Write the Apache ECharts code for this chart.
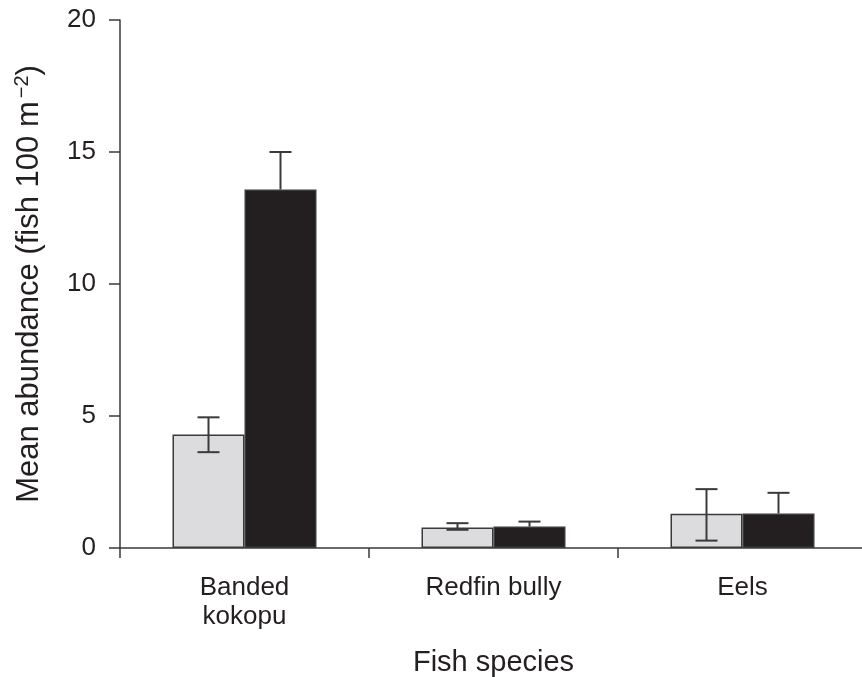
<!DOCTYPE html>
<html>
<head>
<meta charset="utf-8">
<script src="https://cdn.jsdelivr.net/npm/echarts@6/dist/echarts.min.js"></script>
<style>html,body{margin:0;padding:0;background:#fff;}#c{width:862px;height:677px;}</style>
</head>
<body>
<div id="c"></div>
<script>
var categories = ['Banded\nkokopu', 'Redfin bully', 'Eels'];
var yTicks = [0, 5, 10, 15, 20];
var greyMean = [4.30, 0.78, 1.30];
var greyHigh = [4.95, 0.94, 2.23];
var greyLow = [3.63, 0.69, 0.28];
var blackMean = [13.58, 0.81, 1.31];
var blackHigh = [15.00, 1.00, 2.09];
var blackLow = [13.58, 0.81, 1.31];

var BAR_W = 72;
var INK = '#231f20';
var LINE = '#3a3a3a';
var FONT = 'Liberation Sans';

function errData(high, low) {
  return categories.map(function (c, i) { return [i, low[i], high[i]]; });
}
function errRender(offsetSign) {
  return function (params, api) {
    var i = api.value(0);
    var lo = api.coord([i, api.value(1)]);
    var hi = api.coord([i, api.value(2)]);
    var x = lo[0] + offsetSign * BAR_W / 2;
    var cap = 11;
    var st = { stroke: LINE, lineWidth: 2 };
    var children = [
      { type: 'line', shape: { x1: x, y1: lo[1], x2: x, y2: hi[1] }, style: st },
      { type: 'line', shape: { x1: x - cap, y1: hi[1], x2: x + cap, y2: hi[1] }, style: st }
    ];
    if (Math.abs(lo[1] - hi[1]) > 0 && offsetSign < 0) {
      children.push({ type: 'line', shape: { x1: x - cap, y1: lo[1], x2: x + cap, y2: lo[1] }, style: st });
    }
    return { type: 'group', children: children };
  };
}

var chart = echarts.init(document.getElementById('c'));
chart.setOption({
  animation: false,
  backgroundColor: '#fff',
  grid: { left: 120, top: 20, width: 747, height: 528, containLabel: false, outerBoundsMode: 'none' },
  xAxis: {
    type: 'category',
    data: categories,
    axisLine: { lineStyle: { color: LINE, width: 1.5 } },
    axisTick: { show: true, length: 10, alignWithLabel: false, lineStyle: { color: LINE, width: 1.5 } },
    axisLabel: { color: INK, fontFamily: FONT, fontSize: 26, margin: 25, lineHeight: 29 },
    name: 'Fish species',
    nameLocation: 'middle',
    nameGap: 100,
    nameTextStyle: { color: INK, fontFamily: FONT, fontSize: 29 }
  },
  yAxis: {
    type: 'value',
    min: yTicks[0],
    max: yTicks[yTicks.length - 1],
    interval: 5,
    splitLine: { show: false },
    axisLine: { show: true, lineStyle: { color: LINE, width: 1.5 } },
    axisTick: { show: true, length: 11, lineStyle: { color: LINE, width: 1.5 } },
    axisLabel: { color: INK, fontFamily: FONT, fontSize: 26, margin: 24 },
    name: '{n|Mean abundance (fish 100 m}{s|−2}{n|)}',
    nameLocation: 'middle',
    nameGap: 74,
    nameRotate: 90,
    nameTextStyle: {
      color: INK, fontFamily: FONT, fontSize: 31,
      rich: {
        n: { color: INK, fontFamily: FONT, fontSize: 31 },
        s: { color: INK, fontFamily: FONT, fontSize: 20, verticalAlign: 'top', padding: [0, 0, 14, 3] }
      }
    }
  },
  series: [
    {
      name: 'Group 1', type: 'bar', data: greyMean, barWidth: BAR_W, barGap: '0%',
      itemStyle: { color: '#dcdcde', borderColor: LINE, borderWidth: 1.5 }
    },
    {
      name: 'Group 2', type: 'bar', data: blackMean, barWidth: BAR_W, barGap: '0%',
      itemStyle: { color: INK, borderColor: LINE, borderWidth: 1.5 }
    },
    {
      type: 'custom', renderItem: errRender(-1), data: errData(greyHigh, greyLow), z: 10,
      encode: { x: 0, y: [1, 2] }
    },
    {
      type: 'custom', renderItem: errRender(1), data: errData(blackHigh, blackLow), z: 10,
      encode: { x: 0, y: [1, 2] }
    }
  ]
});
</script>
</body>
</html>
